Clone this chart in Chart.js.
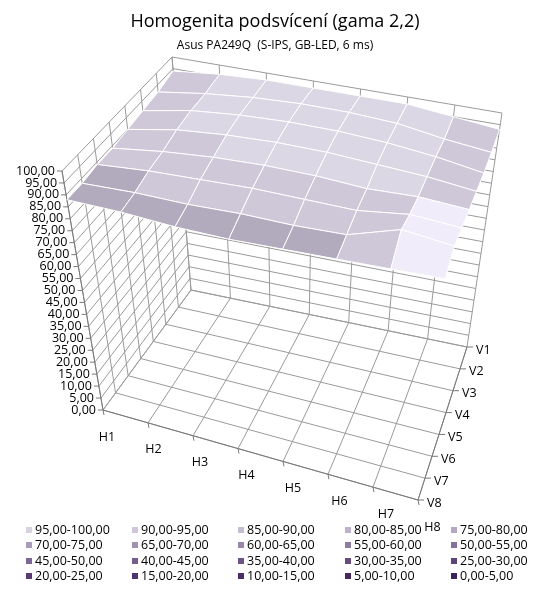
<!DOCTYPE html>
<html><head><meta charset="utf-8">
<script src="https://cdn.jsdelivr.net/npm/chart.js"></script>
<style>body{margin:0;background:#fff}canvas{display:block}</style>
</head><body>
<canvas id="c" width="550" height="589"></canvas>
<script>
const hCats=['H1','H2','H3','H4','H5','H6','H7','H8'];
const vCats=['V1','V2','V3','V4','V5','V6','V7','V8'];
const zTicks=[0,5,10,15,20,25,30,35,40,45,50,55,60,65,70,75,80,85,90,95,100];
// rows V1..V8, columns H1..H8
const V1=[94,96,97,97,97,97,95,93];
const V2=[92,95,97,98,98,97,94,92];
const V3=[91,95,97,98,98,97,95,92];
const V4=[90,94,96,97,97,96,95,93];
const V5=[89,92,94,95,95,94,95,94];
const V6=[89,91,92,93,93,93,96,95];
const V7=[88,89,89,90,90,91,98,96];
const V8=[88,88,87,87,88,89,90,91];
const rows=[V1,V2,V3,V4,V5,V6,V7,V8];
const legendLabels=['95,00-100,00','90,00-95,00','85,00-90,00','80,00-85,00','75,00-80,00','70,00-75,00','65,00-70,00','60,00-65,00','55,00-60,00','50,00-55,00','45,00-50,00','40,00-45,00','35,00-40,00','30,00-35,00','25,00-30,00','20,00-25,00','15,00-20,00','10,00-15,00','5,00-10,00','0,00-5,00'];
const legendColors=['#d9d3e1','#cfc7d9','#c6bdd1','#bdb2ca','#b3a7c2','#a99cba','#a192b3','#9887ab','#8f7ca4','#86719c','#7d6795','#755d8e','#6d5487','#654b80','#5e4379','#573b72','#50346b','#4a2e64','#44285e','#3e2358'];
const fmt=v=>v.toFixed(2).replace('.',',');

const B={a:[191,290],b:[467,347],c:[103,410],d:[418,500]};
const T={a:[172,57],b:[502,113],c:[62,171],d:[448,257]};
function bil(Q,u,v){const x=(1-u)*(1-v)*Q.a[0]+u*(1-v)*Q.b[0]+(1-u)*v*Q.c[0]+u*v*Q.d[0];
 const y=(1-u)*(1-v)*Q.a[1]+u*(1-v)*Q.b[1]+(1-u)*v*Q.c[1]+u*v*Q.d[1];return [x,y];}
function P(u,v,z){const b=bil(B,u,v),t=bil(T,u,v),f=z/100;return [b[0]+(t[0]-b[0])*f,b[1]+(t[1]-b[1])*f];}

const plug={id:'surf',afterDraw(ch){
 const ctx=ch.ctx,sx=ch.scales.x,sy=ch.scales.y;
 const px=p=>[sx.getPixelForValue(p[0]),sy.getPixelForValue(p[1])];
 const line=(a,b,col,w)=>{a=px(a);b=px(b);ctx.strokeStyle=col;ctx.lineWidth=w||1;ctx.beginPath();ctx.moveTo(a[0],a[1]);ctx.lineTo(b[0],b[1]);ctx.stroke();};
 ctx.save();
 const n=hCats.length-1,m=vCats.length-1,gc='#9a9a9a';
 zTicks.forEach(z=>{line(P(0,0,z),P(1,0,z),gc);line(P(0,1,z),P(0,0,z),gc);});
 hCats.forEach((h,i)=>{const u=i/n;line(P(u,0,0),P(u,0,100),gc);line(P(u,0,0),P(u,1,0),gc);});
 vCats.forEach((h,j)=>{const v=j/m;line(P(0,v,0),P(0,v,100),gc);line(P(0,v,0),P(1,v,0),gc);});
 const ec='#7a7a7a';
 line(P(0,1,0),P(0,1,100),ec);line(P(0,1,0),P(1,1,0),ec);line(P(1,0,0),P(1,1,0),ec);
 zTicks.forEach(z=>line(P(0,1,z),[P(0,1,z)[0]-5,P(0,1,z)[1]],ec));
 hCats.forEach((h,i)=>line(P(i/n,1,0),[P(i/n,1,0)[0]+1,P(i/n,1,0)[1]+5],ec));
 vCats.forEach((h,j)=>line(P(1,j/m,0),[P(1,j/m,0)[0]+6,P(1,j/m,0)[1]],ec));
 const col=z=>z>=95?'#dcd7e4':z>=90?'#cfc8d9':'#b2aabd';
 for(let j=0;j<m;j++)for(let i=0;i<n;i++){
  const pts=[[i,j],[i+1,j],[i+1,j+1],[i,j+1]].map(([a,b])=>px(P(a/n,b/m,rows[b][a])));
  const avg=(rows[j][i]+rows[j][i+1]+rows[j+1][i]+rows[j+1][i+1])/4;
  ctx.fillStyle=(i===n-1&&j>=4)?'#f1ecf9':col(avg);
  ctx.beginPath();pts.forEach((p,k)=>k?ctx.lineTo(p[0],p[1]):ctx.moveTo(p[0],p[1]));ctx.closePath();ctx.fill();
  ctx.strokeStyle='#ffffff';ctx.lineWidth=1;ctx.stroke();
 }
 ctx.fillStyle='#000';ctx.font='12.5px "Open Sans", "DejaVu Sans", sans-serif';ctx.textBaseline='middle';
 ctx.textAlign='right';
 zTicks.forEach(z=>{const p=px(P(0,1,z));ctx.fillText(fmt(z),p[0]-7,p[1]);});
 ctx.textAlign='center';
 hCats.forEach((h,i)=>{const p=px(P(i/n,1,0));ctx.fillText(h,p[0]+4+i*1.5,p[1]+27);});
 ctx.textAlign='left';
 vCats.forEach((h,j)=>{const p=px(P(1,j/m,0));ctx.fillText(h,p[0]+9,p[1]+3);});
 ctx.textAlign='center';ctx.font='18px "Open Sans", sans-serif';
 ctx.fillText('Homogenita podsvícení (gama 2,2)',sx.getPixelForValue(275),sy.getPixelForValue(22));
 ctx.font='12px "Open Sans", sans-serif';
 ctx.fillText('Asus PA249Q  (S-IPS, GB-LED, 6 ms)',sx.getPixelForValue(275),sy.getPixelForValue(46));
 ctx.textAlign='left';ctx.font='12.5px "Open Sans", sans-serif';
 const lx=[26,132,238,345,451],ly=[530,545,561,576];
 legendLabels.forEach((l,k)=>{const x=lx[k%5],y=ly[Math.floor(k/5)];
  ctx.fillStyle=legendColors[k];ctx.fillRect(x,y-3,6,6);ctx.fillStyle='#000';ctx.fillText(l,x+9,y);});
 ctx.restore();
}};
new Chart(document.getElementById('c'),{type:'scatter',data:{datasets:[{data:[]}]},
 options:{responsive:false,animation:false,devicePixelRatio:1,layout:{padding:0},
  plugins:{legend:{display:false},tooltip:{enabled:false}},
  scales:{x:{type:'linear',min:0,max:550,display:false},y:{type:'linear',min:0,max:589,reverse:true,display:false}}},
 plugins:[plug]});
</script></body></html>
